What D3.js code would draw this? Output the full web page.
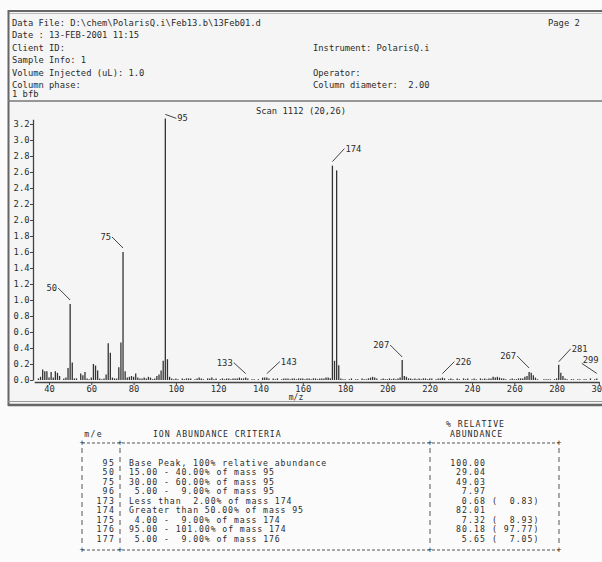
<!DOCTYPE html>
<html>
<head>
<meta charset="utf-8">
<script src="https://cdn.jsdelivr.net/npm/d3@7"></script>
<style>
  body { margin: 0; background: #fbfbfb; }
  svg { display: block; }
  text { white-space: pre; }
</style>
</head>
<body>
<div id="chart"></div>
<script>
const headerLeft = [
  'Data File: D:\\chem\\PolarisQ.i\\Feb13.b\\13Feb01.d',
  'Date : 13-FEB-2001 11:15',
  'Client ID:',
  'Sample Info: 1',
  'Volume Injected (uL): 1.0',
  'Column phase:',
  '1 bfb'
]
const headerRight = ['Page 2', '', 'Instrument: PolarisQ.i', '', 'Operator:', 'Column diameter:  2.00', '']
const plotTitle = 'Scan 1112 (20,26)'

// m/z, abundance (x 10^6)
const lowMassPeaks = [
  [35, 0.02], [36, 0.04], [37, 0.13], [38, 0.11], [39, 0.11], [40, 0.03], [41, 0.10], [42, 0.03],
  [43, 0.11], [44, 0.09], [45, 0.05], [47, 0.02], [48, 0.03], [49, 0.15], [50, 0.95], [51, 0.22],
  [52, 0.02], [53, 0.02], [55, 0.08], [56, 0.06], [57, 0.10], [58, 0.02], [59, 0.01], [60, 0.03],
  [61, 0.20], [62, 0.18], [63, 0.12], [64, 0.02], [65, 0.01], [66, 0.02], [67, 0.07], [68, 0.46],
  [69, 0.34], [70, 0.03], [71, 0.02], [72, 0.02], [73, 0.16], [74, 0.47], [75, 1.60], [76, 0.11],
  [77, 0.03], [78, 0.04], [79, 0.05], [80, 0.04], [81, 0.08], [82, 0.03], [83, 0.02], [84, 0.02],
  [85, 0.03], [86, 0.02], [87, 0.04], [88, 0.03], [89, 0.01], [90, 0.02], [91, 0.05], [92, 0.07],
  [93, 0.12], [94, 0.24], [95, 3.27], [96, 0.26], [97, 0.04], [98, 0.02], [99, 0.01]
]
const midMassPeaks = [
  [100, 0.02], [101, 0.01], [103, 0.02], [104, 0.01], [105, 0.02], [106, 0.02], [107, 0.02], [109, 0.01],
  [110, 0.02], [111, 0.03], [112, 0.02], [113, 0.01], [115, 0.02], [116, 0.02], [117, 0.03], [118, 0.01],
  [119, 0.02], [121, 0.01], [122, 0.02], [123, 0.01], [124, 0.02], [125, 0.02], [126, 0.01], [127, 0.02],
  [128, 0.02], [129, 0.02], [130, 0.03], [131, 0.02], [132, 0.02], [133, 0.03], [134, 0.02], [136, 0.01],
  [137, 0.01], [139, 0.01], [141, 0.03], [142, 0.03], [143, 0.03], [144, 0.02], [146, 0.02], [147, 0.01],
  [148, 0.02], [150, 0.01], [151, 0.02], [152, 0.02], [153, 0.02], [154, 0.01], [155, 0.02], [156, 0.02],
  [157, 0.01], [158, 0.02], [159, 0.02], [160, 0.02], [161, 0.01], [162, 0.02], [163, 0.02], [164, 0.01],
  [165, 0.02], [166, 0.02], [167, 0.01], [168, 0.02], [169, 0.02], [170, 0.02], [171, 0.03], [172, 0.03],
  [173, 0.022], [174, 2.68], [175, 0.24], [176, 2.62], [177, 0.185], [178, 0.02], [179, 0.01], [180, 0.01],
  [182, 0.01], [183, 0.02], [185, 0.01], [186, 0.01], [188, 0.02], [189, 0.01], [190, 0.01], [191, 0.02],
  [192, 0.03], [193, 0.04], [194, 0.03], [195, 0.02], [197, 0.01], [198, 0.02], [199, 0.01]
]
const highMassPeaks = [
  [200, 0.01], [201, 0.02], [202, 0.01], [203, 0.02], [204, 0.01], [205, 0.02], [206, 0.03], [207, 0.25],
  [208, 0.05], [209, 0.04], [210, 0.02], [211, 0.02], [212, 0.01], [213, 0.02], [214, 0.01], [215, 0.02],
  [216, 0.01], [217, 0.02], [218, 0.02], [219, 0.01], [220, 0.02], [221, 0.02], [223, 0.01], [224, 0.02],
  [225, 0.02], [226, 0.03], [227, 0.02], [229, 0.01], [230, 0.02], [231, 0.01], [233, 0.02], [234, 0.01],
  [236, 0.02], [237, 0.01], [238, 0.02], [240, 0.01], [241, 0.02], [242, 0.01], [244, 0.02], [245, 0.01],
  [246, 0.02], [247, 0.01], [248, 0.02], [249, 0.02], [250, 0.04], [251, 0.03], [252, 0.04], [253, 0.03],
  [254, 0.02], [255, 0.02], [256, 0.01], [258, 0.01], [259, 0.02], [260, 0.01], [261, 0.01], [262, 0.02],
  [263, 0.02], [264, 0.02], [265, 0.04], [266, 0.05], [267, 0.10], [268, 0.09], [269, 0.06], [270, 0.03],
  [271, 0.01], [274, 0.01], [275, 0.01], [276, 0.01], [277, 0.01], [279, 0.01], [280, 0.02], [281, 0.19],
  [282, 0.09], [283, 0.05], [284, 0.02], [285, 0.01], [287, 0.01], [288, 0.01], [290, 0.01], [291, 0.01],
  [293, 0.01], [294, 0.01], [296, 0.02], [298, 0.01], [299, 0.02]
]
const labelledMasses = [50, 75, 95, 133, 143, 174, 207, 226, 267, 281, 299]

const yTicks = [0, 0.2, 0.4, 0.6, 0.8, 1.0, 1.2, 1.4, 1.6, 1.8, 2.0, 2.2, 2.4, 2.6, 2.8, 3.0, 3.2]
const xTicks = [40, 60, 80, 100, 120, 140, 160, 180, 200, 220, 240, 260, 280, 300]

const tableMasses = [95, 50, 75, 96, 173, 174, 175, 176, 177]
const tableCriteria = [
  'Base Peak, 100% relative abundance',
  '15.00 - 40.00% of mass 95',
  '30.00 - 60.00% of mass 95',
  ' 5.00 -  9.00% of mass 95',
  'Less than  2.00% of mass 174',
  'Greater than 50.00% of mass 95',
  ' 4.00 -  9.00% of mass 174',
  '95.00 - 101.00% of mass 174',
  ' 5.00 -  9.00% of mass 176'
]
const tableAbundance = ['100.00', '29.04', '49.03', '7.97', '0.68', '82.01', '7.32', '80.18', '5.65']
const tableRelative = ['', '', '', '', '0.83', '', '8.93', '97.77', '7.05']

const W = 602
const H = 562
const MONO = '"DejaVu Sans Mono", "Liberation Mono", monospace'
const INK = '#2b2b2b'

const svg = d3.select('#chart').append('svg')
  .attr('width', W).attr('height', H)
  .style('font-family', MONO)

// framed report area
svg.append('rect').attr('x', 8).attr('y', 11).attr('width', W).attr('height', 395).attr('fill', '#f5f5f5')
svg.append('line').attr('x1', 8).attr('x2', W).attr('y1', 11).attr('y2', 11).attr('stroke', '#666').attr('stroke-width', 2)
svg.append('line').attr('x1', 8).attr('x2', W).attr('y1', 13.5).attr('y2', 13.5).attr('stroke', '#bbb').attr('stroke-width', 1)
svg.append('line').attr('x1', 8.5).attr('x2', 8.5).attr('y1', 10).attr('y2', 406).attr('stroke', '#666').attr('stroke-width', 2)
svg.append('line').attr('x1', 8).attr('x2', W).attr('y1', 101).attr('y2', 101).attr('stroke', '#777').attr('stroke-width', 1.5)
svg.append('line').attr('x1', 8).attr('x2', W).attr('y1', 401.5).attr('y2', 401.5).attr('stroke', '#999').attr('stroke-width', 1)
svg.append('line').attr('x1', 8).attr('x2', W).attr('y1', 405).attr('y2', 405).attr('stroke', '#666').attr('stroke-width', 2.5)

// header block
const headerRows = [23, 35, 48, 60, 73, 85, 94]
const header = svg.append('g').attr('font-size', 8.8).attr('fill', INK)
headerLeft.forEach((t, i) => {
  header.append('text').attr('x', 12).attr('y', headerRows[i]).attr('dy', '0.35em').text(t)
})
headerRight.forEach((t, i) => {
  if (!t) return
  header.append('text').attr('x', i === 0 ? 548 : 313).attr('y', headerRows[i]).attr('dy', '0.35em').text(t)
})

svg.append('text').attr('x', 301).attr('y', 111).attr('dy', '0.35em')
  .attr('text-anchor', 'middle').attr('font-size', 8.8).attr('fill', INK).text(plotTitle)

// spectrum
const peaks = lowMassPeaks.concat(midMassPeaks, highMassPeaks)
const x = d3.scaleLinear().domain([33, 300]).range([34.2, 598.9])
const y = d3.scaleLinear().domain([0, 3.26]).range([380, 119.2])

const yAxis = svg.append('g')
  .attr('transform', 'translate(33,0)')
  .call(d3.axisLeft(y).tickValues(yTicks).tickFormat(d3.format('.1f')).tickSize(3).tickSizeOuter(0))
yAxis.select('.domain').attr('stroke', '#444').attr('stroke-width', 1.3)
yAxis.selectAll('.tick line').attr('stroke', '#444')
yAxis.selectAll('.tick text').attr('font-family', MONO).attr('font-size', 8.8).attr('fill', INK).attr('x', -3.5)

const xAxis = svg.append('g')
  .attr('transform', 'translate(0,382)')
  .call(d3.axisBottom(x).tickValues(xTicks).tickFormat(d3.format('d')).tickSize(3).tickSizeOuter(0))
xAxis.select('.domain').attr('stroke', '#444').attr('stroke-width', 1.3)
xAxis.selectAll('.tick line').attr('stroke', '#444')
xAxis.selectAll('.tick text').attr('font-family', MONO).attr('font-size', 8.8).attr('fill', INK).attr('y', 3.5)

svg.append('text').attr('x', 296).attr('y', 397.5).attr('dy', '0.35em')
  .attr('text-anchor', 'middle').attr('font-size', 8).attr('fill', INK).text('m/z')

svg.append('g').selectAll('line').data(peaks).join('line')
  .attr('x1', (d) => x(d[0])).attr('x2', (d) => x(d[0]))
  .attr('y1', y(0)).attr('y2', (d) => y(d[1]))
  .attr('stroke', '#333').attr('stroke-width', 1.3)

// peak labels with leader lines: [gap above peak, dx, dy]
const leader = {
  50: [4, -12, -12], 75: [4, -11, -11], 95: [4, 11, 4], 133: [4, -12, -11],
  143: [4, 13, -12], 174: [4, 12, -13], 207: [3, -12, -12], 226: [4, 12, -12],
  267: [4, -12, -12], 281: [3, 12, -13], 299: [5, -15, -10]
}
const peakMap = new Map(peaks)
const notes = svg.append('g').attr('font-size', 8.8).attr('fill', INK)
labelledMasses.forEach((m) => {
  const [gap, dx, dy] = leader[m]
  const px = x(m)
  const py = y(peakMap.get(m)) - gap
  notes.append('line')
    .attr('x1', px).attr('y1', py).attr('x2', px + dx).attr('y2', py + dy)
    .attr('stroke', '#444').attr('stroke-width', 1)
  const left = dx < 0 && m !== 299
  notes.append('text')
    .attr('x', px + dx + (left ? -1 : 1))
    .attr('y', py + dy + (m === 299 ? -3 : 0))
    .attr('dy', '0.35em')
    .attr('text-anchor', left ? 'end' : 'start')
    .text(String(m))
})

// ion abundance criteria table (wide glyphs on a short line pitch)
const CHAR_W = 5.8
const table = svg.append('g').attr('font-size', 8.2).attr('fill', INK)
const cell = (tx, ty, str, anchor) => table.append('text')
  .attr('x', tx).attr('y', ty).attr('dy', '0.35em')
  .attr('text-anchor', anchor || 'start')
  .attr('textLength', str.length * CHAR_W).attr('lengthAdjust', 'spacing')
  .text(str)

const colX = [82, 120, 430, 559]
const topY = 443
const bottomY = 550
const rowY = (i) => 463 + i * 9.5

cell(93, 434, 'm/e', 'middle')
cell(153, 434, 'ION ABUNDANCE CRITERIA')
cell(475, 424, '% RELATIVE', 'middle')
cell(476, 434, 'ABUNDANCE', 'middle')

;[topY, bottomY].forEach((ly) => {
  table.append('line').attr('x1', colX[0]).attr('x2', colX[3]).attr('y1', ly).attr('y2', ly)
    .attr('stroke', '#555').attr('stroke-width', 1).attr('stroke-dasharray', '3,2')
  colX.forEach((cx) => {
    table.append('text').attr('x', cx).attr('y', ly).attr('dy', '0.35em').attr('text-anchor', 'middle').text('+')
  })
})
colX.forEach((cx) => {
  table.append('line').attr('x1', cx).attr('x2', cx).attr('y1', topY + 5).attr('y2', bottomY - 5)
    .attr('stroke', '#555').attr('stroke-width', 1).attr('stroke-dasharray', '5,4')
})

tableMasses.forEach((m, i) => {
  const ry = rowY(i)
  cell(114, ry, String(m), 'end')
  cell(129, ry, tableCriteria[i])
  cell(485, ry, tableAbundance[i], 'end')
  if (tableRelative[i]) cell(492, ry, '(' + tableRelative[i].padStart(6, ' ') + ')')
})
</script>
</body>
</html>
